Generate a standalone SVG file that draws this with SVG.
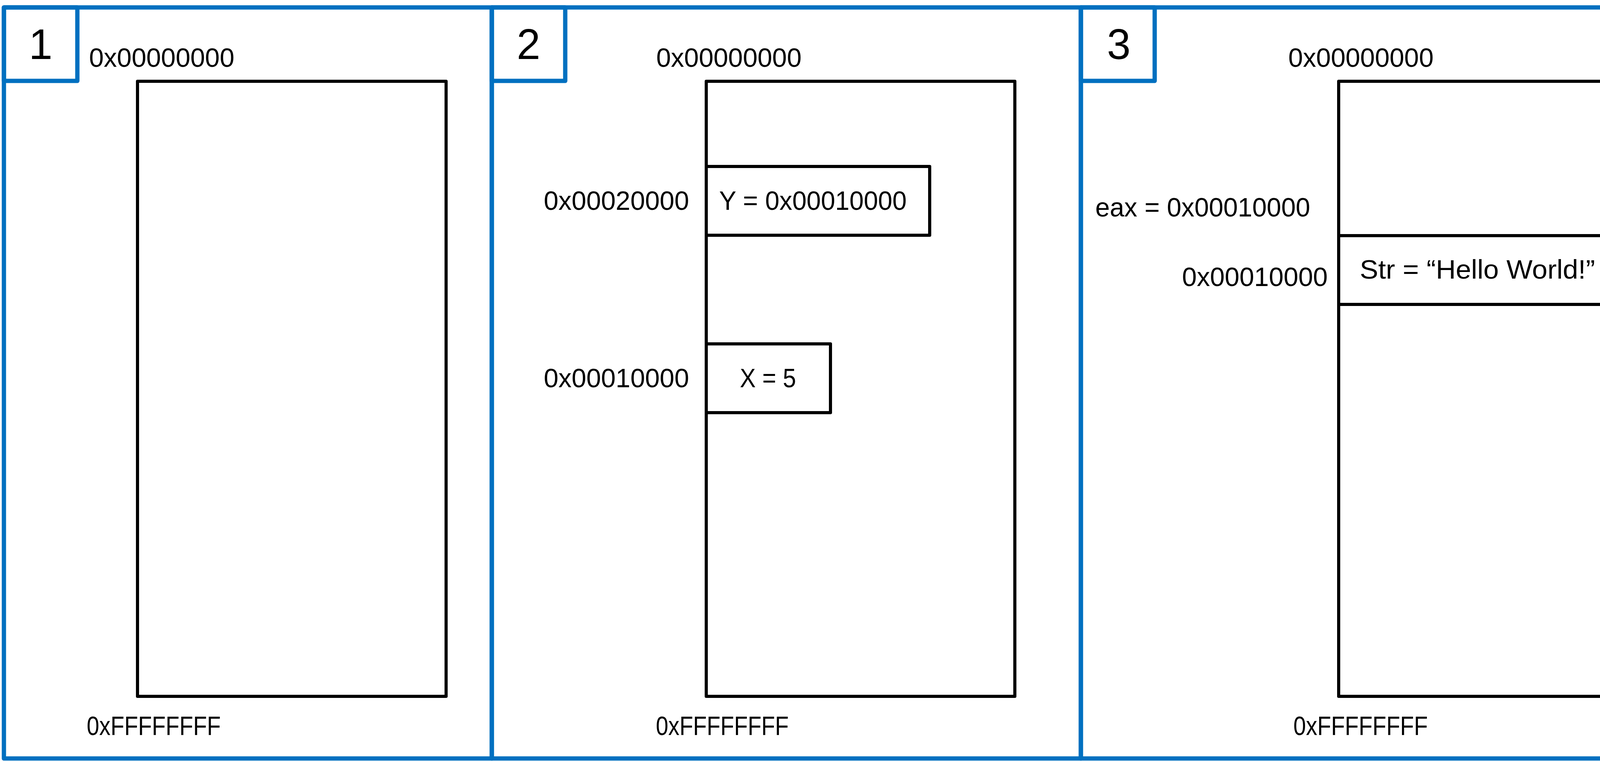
<svg xmlns="http://www.w3.org/2000/svg" width="4370" height="1950" viewBox="0 0 4370 1950">
<style>
.panel{fill:none;stroke:#0070C0;stroke-width:11;stroke-linejoin:round}
.mem{fill:none;stroke:#000;stroke-width:8;stroke-linejoin:round}
.t{font-family:"Liberation Sans",Arial,sans-serif;font-size:68px;fill:#000}
.n{font-family:"Liberation Sans",Arial,sans-serif;font-size:109px;fill:#000;text-anchor:middle}
</style>
<rect width="4370" height="1950" fill="#fff"/>
<g id="panel1">
<rect class="panel" x="10" y="19" width="1249" height="1922"/>
<rect class="panel" x="10" y="19" width="188" height="188"/>
<text class="n" x="104" y="151">1</text>
<text class="t" x="228" y="171" textLength="372" lengthAdjust="spacingAndGlyphs">0x00000000</text>
<rect class="mem" x="352" y="208" width="790" height="1574"/>
<text class="t" x="222" y="1881" textLength="343" lengthAdjust="spacingAndGlyphs">0xFFFFFFFF</text>
</g>
<g id="panel2">
<rect class="panel" x="1259" y="19" width="1508" height="1922"/>
<rect class="panel" x="1259" y="19" width="188" height="188"/>
<text class="n" x="1353" y="151">2</text>
<text class="t" x="1680" y="171" textLength="372" lengthAdjust="spacingAndGlyphs">0x00000000</text>
<rect class="mem" x="1808" y="208" width="790" height="1574"/>
<g id="ybox">
<rect class="mem" x="1808" y="426" width="572" height="176"/>
<text class="t" x="1392" y="537" textLength="372" lengthAdjust="spacingAndGlyphs">0x00020000</text>
<text class="t" x="1841" y="537" textLength="480" lengthAdjust="spacingAndGlyphs">Y = 0x00010000</text>
</g>
<g id="xbox">
<rect class="mem" x="1808" y="880" width="318" height="176"/>
<text class="t" x="1392" y="991" textLength="372" lengthAdjust="spacingAndGlyphs">0x00010000</text>
<text class="t" x="1894" y="991" textLength="144" lengthAdjust="spacingAndGlyphs">X = 5</text>
</g>
<text class="t" x="1679" y="1881" textLength="340" lengthAdjust="spacingAndGlyphs">0xFFFFFFFF</text>
</g>
<g id="panel3">
<rect class="panel" x="2767" y="19" width="1593" height="1922"/>
<rect class="panel" x="2767" y="19" width="189" height="188"/>
<text class="n" x="2864" y="151">3</text>
<text class="t" x="3298" y="171" textLength="372" lengthAdjust="spacingAndGlyphs">0x00000000</text>
<rect class="mem" x="3427" y="208" width="788" height="1574"/>
<g id="strbox">
<line class="mem" x1="3427" y1="603" x2="4215" y2="603"/>
<line class="mem" x1="3427" y1="779" x2="4215" y2="779"/>
<text class="t" x="3481" y="713" textLength="681" lengthAdjust="spacingAndGlyphs">Str = “Hello World!” ,0</text>
<text class="t" x="3026" y="732" textLength="373" lengthAdjust="spacingAndGlyphs">0x00010000</text>
</g>
<text class="t" x="2804" y="554" textLength="550" lengthAdjust="spacingAndGlyphs">eax = 0x00010000</text>
<text class="t" x="3311" y="1881" textLength="344" lengthAdjust="spacingAndGlyphs">0xFFFFFFFF</text>
</g>
<g id="connectors"/>
</svg>
